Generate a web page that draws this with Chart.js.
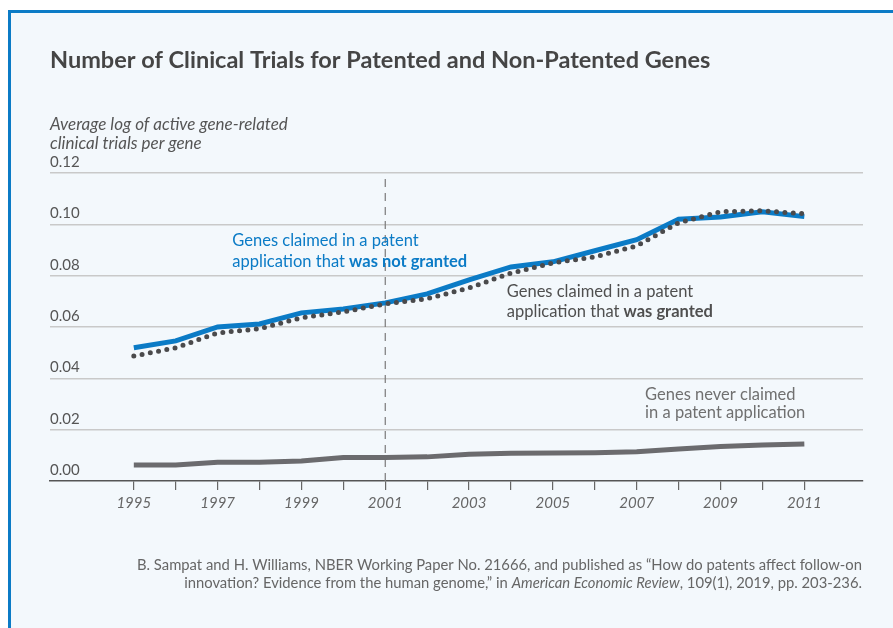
<!DOCTYPE html>
<html>
<head>
<meta charset="utf-8">
<script src="https://cdn.jsdelivr.net/npm/chart.js@4.4.1/dist/chart.umd.min.js"></script>
<style>
  html, body { margin: 0; padding: 0; background: #fff; }
  #page { position: relative; width: 893px; height: 628px; overflow: hidden; }
  #frame {
    position: absolute; left: 8px; top: 10px; right: 0; bottom: 0;
    background: #f3f8fc;
    border-top: 3px solid #0b7bc6;
    border-left: 3px solid #0b7bc6;
  }
  #chart { position: absolute; left: 0; top: 0; }
</style>
</head>
<body>
<div id="page">
  <div id="frame"></div>
  <canvas id="chart" width="893" height="628"></canvas>
</div>
<script>
// data
const years = [1995, 1996, 1997, 1998, 1999, 2000, 2001, 2002, 2003,
               2004, 2005, 2006, 2007, 2008, 2009, 2010, 2011];
const notGranted = [0.0519, 0.0546, 0.0600, 0.0612, 0.0655, 0.0670, 0.0694, 0.0729, 0.0784,
                    0.0834, 0.0854, 0.0897, 0.0940, 0.1020, 0.1029, 0.1049, 0.1030];
const granted = [0.0487, 0.0519, 0.0577, 0.0593, 0.0636, 0.0659, 0.0690, 0.0710, 0.0752,
                 0.0810, 0.0850, 0.0873, 0.0916, 0.1006, 0.1049, 0.1053, 0.1041];
const neverClaimed = [0.0062, 0.0062, 0.0073, 0.0073, 0.0078, 0.0092, 0.0092, 0.0094, 0.0104,
                      0.0108, 0.0109, 0.0110, 0.0114, 0.0125, 0.0134, 0.0140, 0.0144];
const yTicks = [0, 0.02, 0.04, 0.06, 0.08, 0.10, 0.12];
const splitYear = 2001;

const FONT = 'Lato, "Noto Sans", sans-serif';
const BLUE = '#0b7bc6';
const DOTS = '#4a4a4c';
const GRAY = '#6b6b6e';

function pts(vals) {
    return years.map((y, i) => ({ x: y, y: vals[i] }));
}

// text runs: [text, weight, style]
function drawRuns(ctx, runs, x, y, size, color, align) {
    let total = 0;
    runs.forEach(r => {
        ctx.font = (r[2] || 'normal') + ' ' + (r[1] || 400) + ' ' + size + 'px ' + FONT;
        r.w = ctx.measureText(r[0]).width;
        total += r.w;
    });
    let cx = align === 'right' ? x - total : x;
    ctx.fillStyle = color;
    ctx.textBaseline = 'middle';
    ctx.textAlign = 'left';
    runs.forEach(r => {
        ctx.font = (r[2] || 'normal') + ' ' + (r[1] || 400) + ' ' + size + 'px ' + FONT;
        ctx.fillText(r[0], cx, y);
        cx += r.w;
    });
}

const textPlugin = {
    id: 'texts',
    afterDraw(chart) {
        const ctx = chart.ctx;
        const xs = chart.scales.x, ys = chart.scales.y;
        const left = chart.chartArea.left;
        ctx.save();
        drawRuns(ctx, [['Number of Clinical Trials for Patented and Non-Patented Genes', 700]],
            left, 60, 23.5, '#454545');
        drawRuns(ctx, [['Average log of active gene-related', 400, 'italic']], left, 125, 17, '#555');
        drawRuns(ctx, [['clinical trials per gene', 400, 'italic']], left, 144, 17, '#555');

        // series labels, anchored in data space
        let px = xs.getPixelForValue(1997.35), py = ys.getPixelForValue(0.0935);
        drawRuns(ctx, [['Genes claimed in a patent']], px, py, 16.5, BLUE);
        drawRuns(ctx, [['application that '], ['was not granted', 700]], px, py + 21, 16.5, BLUE);

        px = xs.getPixelForValue(2003.9); py = ys.getPixelForValue(0.0736);
        drawRuns(ctx, [['Genes claimed in a patent']], px, py, 16.5, '#4f4f4f');
        drawRuns(ctx, [['application that '], ['was granted', 700]], px, py + 20, 16.5, '#4f4f4f');

        px = xs.getPixelForValue(2007.2); py = ys.getPixelForValue(0.0335);
        drawRuns(ctx, [['Genes never claimed']], px, py, 16.5, '#707070');
        drawRuns(ctx, [['in a patent application']], px, py + 18, 16.5, '#707070');

        // source note
        drawRuns(ctx, [['B. Sampat and H. Williams, NBER Working Paper No. 21666, and published as \u201cHow do patents affect follow-on']],
            862, 565, 14.8, '#666', 'right');
        drawRuns(ctx, [['innovation? Evidence from the human genome,\u201d in '], ['American Economic Review', 400, 'italic'],
            [', 109(1), 2019, pp. 203-236.']], 862, 583, 14.8, '#666', 'right');
        ctx.restore();
    }
};

new Chart(document.getElementById('chart'), {
    type: 'line',
    data: {
        datasets: [
            {
                label: 'Granted',
                data: pts(granted),
                borderColor: DOTS,
                borderWidth: 5,
                borderDash: [0, 8.4],
                borderCapStyle: 'round',
                pointRadius: 0,
                tension: 0
            },
            {
                label: 'Not granted',
                data: pts(notGranted),
                borderColor: BLUE,
                borderWidth: 5,
                pointRadius: 0,
                tension: 0
            },
            {
                label: 'Never claimed',
                data: pts(neverClaimed),
                borderColor: GRAY,
                borderWidth: 5,
                pointRadius: 0,
                tension: 0
            },
            {
                label: 'split',
                data: [{ x: splitYear, y: 0 }, { x: splitYear, y: yTicks[yTicks.length - 1] }],
                borderColor: '#7a7a7a',
                borderWidth: 1.2,
                borderDash: [8, 6],
                pointRadius: 0
            }
        ]
    },
    options: {
        responsive: false,
        animation: false,
        maintainAspectRatio: false,
        layout: { padding: { left: 50, right: 30, top: 173, bottom: 107 } },
        plugins: { legend: { display: false }, tooltip: { enabled: false } },
        scales: {
            x: {
                type: 'linear',
                min: 1993,
                max: 2012.4,
                afterFit(s) { s.height = 40; s.paddingLeft = 0; s.paddingRight = 0; },
                afterBuildTicks(s) { s.ticks = years.map(v => ({ value: v })); },
                border: { display: true, color: '#555', width: 1.5 },
                grid: { drawOnChartArea: false, drawTicks: true, tickLength: 9, color: '#666', lineWidth: 1.2 },
                ticks: {
                    autoSkip: false,
                    maxRotation: 0,
                    padding: 4,
                    color: '#666',
                    font: { family: FONT, size: 15, style: 'italic' },
                    callback: v => (v % 2 === 1 ? String(v) : '')
                }
            },
            y: {
                min: 0,
                max: 0.12,
                afterFit(s) { s.width = 0; s.paddingTop = 0; s.paddingBottom = 0; },
                afterBuildTicks(s) { s.ticks = yTicks.map(v => ({ value: v })); },
                border: { display: false },
                grid: {
                    drawTicks: false,
                    color: c => (c.tick && c.tick.value === 0 ? 'rgba(0,0,0,0)' : '#c9c9c9'),
                    lineWidth: 1.5
                },
                ticks: {
                    mirror: true,
                    padding: 0,
                    labelOffset: -11,
                    color: '#555',
                    font: { family: FONT, size: 15 },
                    callback: v => v.toFixed(2)
                }
            }
        }
    },
    plugins: [textPlugin]
});
</script>
</body>
</html>
